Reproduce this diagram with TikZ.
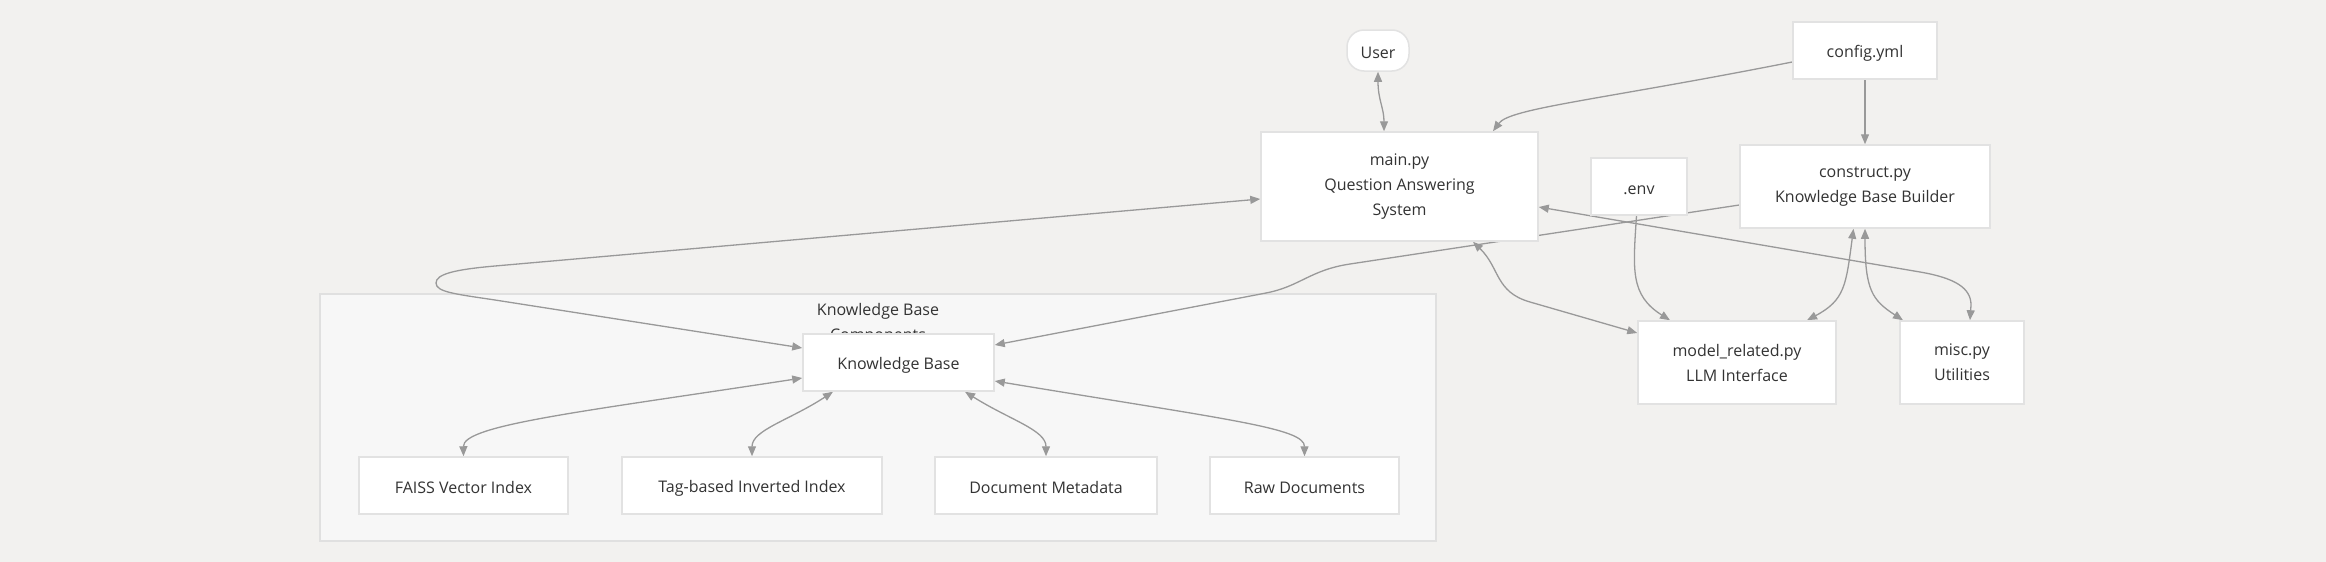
\documentclass[tikz,border=0pt]{standalone}
\usepackage{fontspec}
\setmainfont{Open Sans}
\usetikzlibrary{arrows.meta}
\definecolor{bgc}{RGB}{242,241,239}
\definecolor{clfill}{RGB}{247,247,247}
\definecolor{clborder}{RGB}{224,224,224}
\definecolor{nborder}{RGB}{226,226,226}
\definecolor{edgec}{RGB}{153,153,153}
\definecolor{txt}{RGB}{51,51,51}
\pgfdeclarelayer{bg}
\pgfdeclarelayer{edges}
\pgfsetlayers{bg,edges,main}
\tikzset{
  box/.style={draw=nborder, line width=1.5pt, fill=white, inner sep=0pt, align=center,
    text=txt, font=\fontsize{16}{25}\selectfont, execute at begin node={\rule{0pt}{17pt}}},
  pill/.style={box, rounded corners=17pt},
  conn/.style={draw=edgec, line width=1.3pt, arrows={-Triangle[length=10pt,width=8pt]}},
  biconn/.style={draw=edgec, line width=1.3pt, arrows={Triangle[length=10pt,width=8pt]-Triangle[length=10pt,width=8pt]}},
}
\begin{document}
\begin{tikzpicture}[x=1pt,y=-1pt]
\begin{pgfonlayer}{bg}
\fill[bgc] (0,0) rectangle (2326,562);
\useasboundingbox (0,0) rectangle (2326,562);
\draw[draw=clborder, fill=clfill, line width=1.5pt] (320,294) rectangle (1436,541);
\node[text=txt, align=center, font=\fontsize{16}{25}\selectfont] (cltitle) at (878,324) {Knowledge Base\\Components};
\end{pgfonlayer}

% nodes
\node[pill, minimum width=62pt, minimum height=41pt] (user) at (1378,50.5) {User};
\node[box, minimum width=144pt, minimum height=57pt] (config) at (1865,50.5) {config.yml};
\node[box, minimum width=277pt, minimum height=109pt] (main) at (1399.5,186.5) {main.py\\Question Answering\\System};
\node[box, minimum width=96pt, minimum height=57pt] (env) at (1639,186.5) {.env};
\node[box, minimum width=250pt, minimum height=83pt] (construct) at (1865,186.5) {construct.py\\Knowledge Base Builder};
\node[box, minimum width=198pt, minimum height=83pt] (model) at (1737,362.5) {model\_related.py\\LLM Interface};
\node[box, minimum width=124pt, minimum height=83pt] (misc) at (1962,362.5) {misc.py\\Utilities};
\node[box, minimum width=191pt, minimum height=57pt] (kb) at (898.5,362.5) {Knowledge Base};
\node[box, minimum width=209pt, minimum height=57pt] (faiss) at (463.5,485.5) {FAISS Vector Index};
\node[box, minimum width=260pt, minimum height=57pt] (tag) at (752,485.5) {Tag-based Inverted Index};
\node[box, minimum width=222pt, minimum height=57pt] (meta) at (1046,485.5) {Document Metadata};
\node[box, minimum width=189pt, minimum height=57pt] (raw) at (1304.5,485.5) {Raw Documents};

\begin{pgfonlayer}{edges}
% User <-> main
\draw[biconn] (user.south) .. controls (1378,100) and (1384,108) .. ([xshift=-15.5pt]main.north);
% config -> main
\draw[conn] ([yshift=-11.5pt]config.west) .. controls (1600,100) and (1510,108) .. ([xshift=93.5pt]main.north);
% config -> construct
\draw[conn] (config.south) -- (construct.north);
% construct -> kb
\draw[conn] ([yshift=-18.5pt]construct.west) -- (1350,264) .. controls (1310,270) and (1300,286.5) .. (1266,293) -- ([yshift=17.5pt]kb.east);
% main <-> kb loop
\draw[biconn] ([yshift=-12.5pt]main.west) -- (495,266) .. controls (455,269.5) and (436,274) .. (436,283) .. controls (436,292) and (455,294) .. (495,300) -- ([yshift=14.5pt]kb.west);
% main <-> model
\draw[biconn] ([xshift=73.5pt]main.south) .. controls (1500,268) and (1495,292) .. (1530,302) -- ([yshift=29.5pt]model.west);
% main <-> misc
\draw[biconn] ([yshift=-20.5pt]main.east) -- (1920,272) .. controls (1955,278) and (1971,288) .. (1971,305) -- ([xshift=8pt]misc.north);
% env -> model
\draw[conn] ([xshift=-2.5pt]env.south) .. controls (1633,270) and (1630,295) .. ([xshift=-67pt]model.north);
% construct <-> model
\draw[biconn] ([xshift=-11.5pt]construct.south) .. controls (1846,285) and (1845,300) .. ([xshift=70pt]model.north);
% construct <-> misc
\draw[biconn] (construct.south) .. controls (1865,290) and (1872,300) .. ([xshift=-59pt]misc.north);
% kb <-> components
\draw[biconn] ([yshift=-15.5pt]kb.west) .. controls (580,412) and (463,425) .. (faiss.north);
\draw[biconn] ([xshift=-65.5pt]kb.south) .. controls (790,420) and (752,430) .. (tag.north);
\draw[biconn] ([xshift=66.5pt]kb.south) .. controls (1010,420) and (1046,430) .. (meta.north);
\draw[biconn] ([yshift=-18.5pt]kb.east) .. controls (1230,420) and (1304.5,428) .. (raw.north);
\end{pgfonlayer}
\end{tikzpicture}
\end{document}
